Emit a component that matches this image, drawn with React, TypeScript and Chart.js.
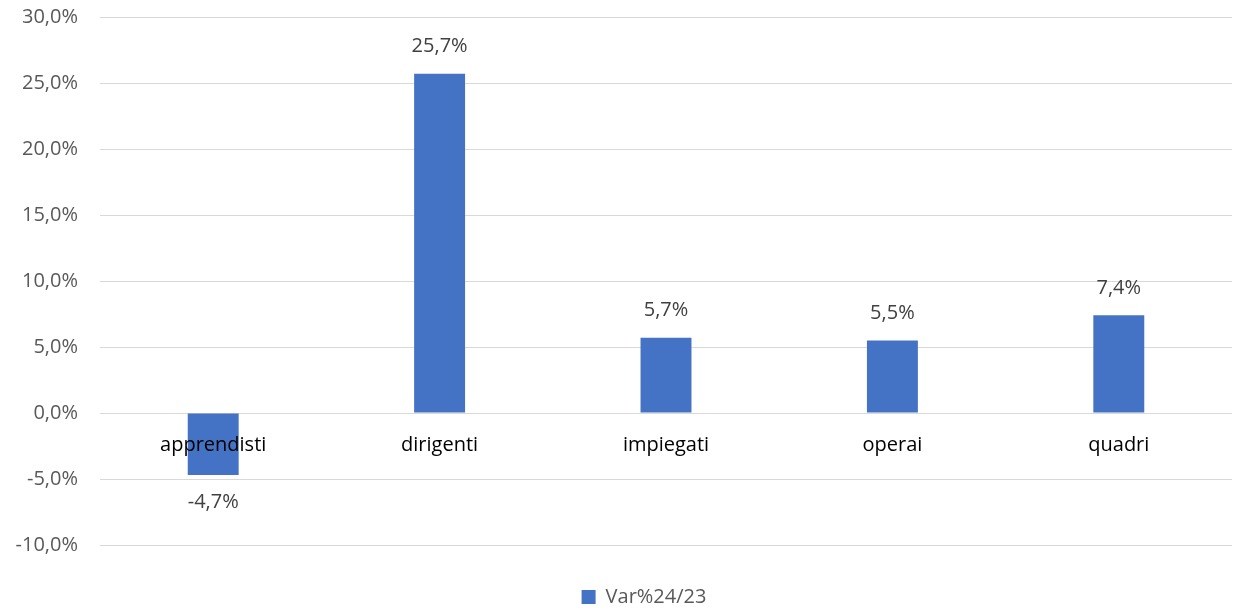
import React, { useEffect, useRef } from "react";
import { Chart, registerables } from "chart.js";

Chart.register(...registerables);

const categories = ["apprendisti", "dirigenti", "impiegati", "operai", "quadri"];
const values = [-4.7, 25.7, 5.7, 5.5, 7.4];
const seriesName = "Var%24/23";
const yMin = -10;
const yMax = 30;
const yStep = 5;

const FONT = "'Open Sans', 'Noto Sans', sans-serif";
const fmt = (v: number) => v.toFixed(1).replace(".", ",") + "%";

const dataLabels = {
  id: "dataLabels",
  afterDatasetsDraw(chart: any) {
    const ctx = chart.ctx;
    const meta = chart.getDatasetMeta(0);
    ctx.save();
    ctx.font = `20px ${FONT}`;
    ctx.fillStyle = "#404040";
    ctx.textAlign = "center";
    ctx.textBaseline = "middle";
    meta.data.forEach((el: any, i: number) => {
      const v = values[i];
      const y = v >= 0 ? el.y - 27 : el.y + 27;
      ctx.fillText(fmt(v), el.x, y);
    });
    ctx.restore();
  },
};

const legendShift = {
  id: "legendShift",
  afterLayout(chart: any) {
    const lg = chart.legend;
    if (!lg) return;
    lg.left += 28;
    lg.right += 28;
    lg.top += 6;
    lg.bottom += 6;
  },
};

export default function App() {
  const ref = useRef<HTMLCanvasElement>(null);
  useEffect(() => {
    if (!ref.current) return;
    const chart = new Chart(ref.current, {
      type: "bar",
      data: {
        labels: categories,
        datasets: [
          {
            label: seriesName,
            data: values,
            backgroundColor: "#4472C4",
            borderWidth: 0,
            categoryPercentage: 1,
            barPercentage: 0.225,
          },
        ],
      },
      options: {
        animation: false,
        responsive: true,
        maintainAspectRatio: false,
        layout: { padding: { top: 17, right: 12, left: 0, bottom: 0 } },
        scales: {
          x: {
            position: { y: 0 } as any,
            grid: { display: false, drawTicks: false },
            border: { display: false },
            ticks: {
              z: 1,
              color: "#000000",
              font: { family: FONT, size: 20 },
              padding: 20,
              maxRotation: 0,
              autoSkip: false,
            },
            afterFit: (s: any) => {
              s.height = 0;
              s.paddingTop = 0;
              s.paddingBottom = 0;
            },
          },
          y: {
            min: yMin,
            max: yMax,
            grid: { color: "#d9d9d9", lineWidth: 1, drawTicks: false },
            border: { display: false },
            ticks: {
              stepSize: yStep,
              color: "#595959",
              font: { family: FONT, size: 20 },
              padding: 22,
              callback: (v: any) => fmt(Number(v)),
            },
            afterFit: (s: any) => {
              s.width = 100;
              s.paddingTop = 0;
              s.paddingBottom = 0;
            },
          },
        },
        plugins: {
          legend: {
            position: "bottom",
            title: {
              display: true,
              text: " ",
              font: { family: FONT, size: 20 },
              padding: { top: 10, bottom: 0 },
            },
            labels: {
              boxWidth: 14,
              boxHeight: 14,
              padding: 2,
              color: "#595959",
              font: { family: FONT, size: 20 },
            },
          },
          tooltip: { enabled: false },
        },
      },
      plugins: [dataLabels, legendShift],
    });
    return () => chart.destroy();
  }, []);
  return (
    <div style={{ position: "absolute", left: 0, top: 0, width: 1244, height: 611 }}>
      <canvas ref={ref} />
    </div>
  );
}
